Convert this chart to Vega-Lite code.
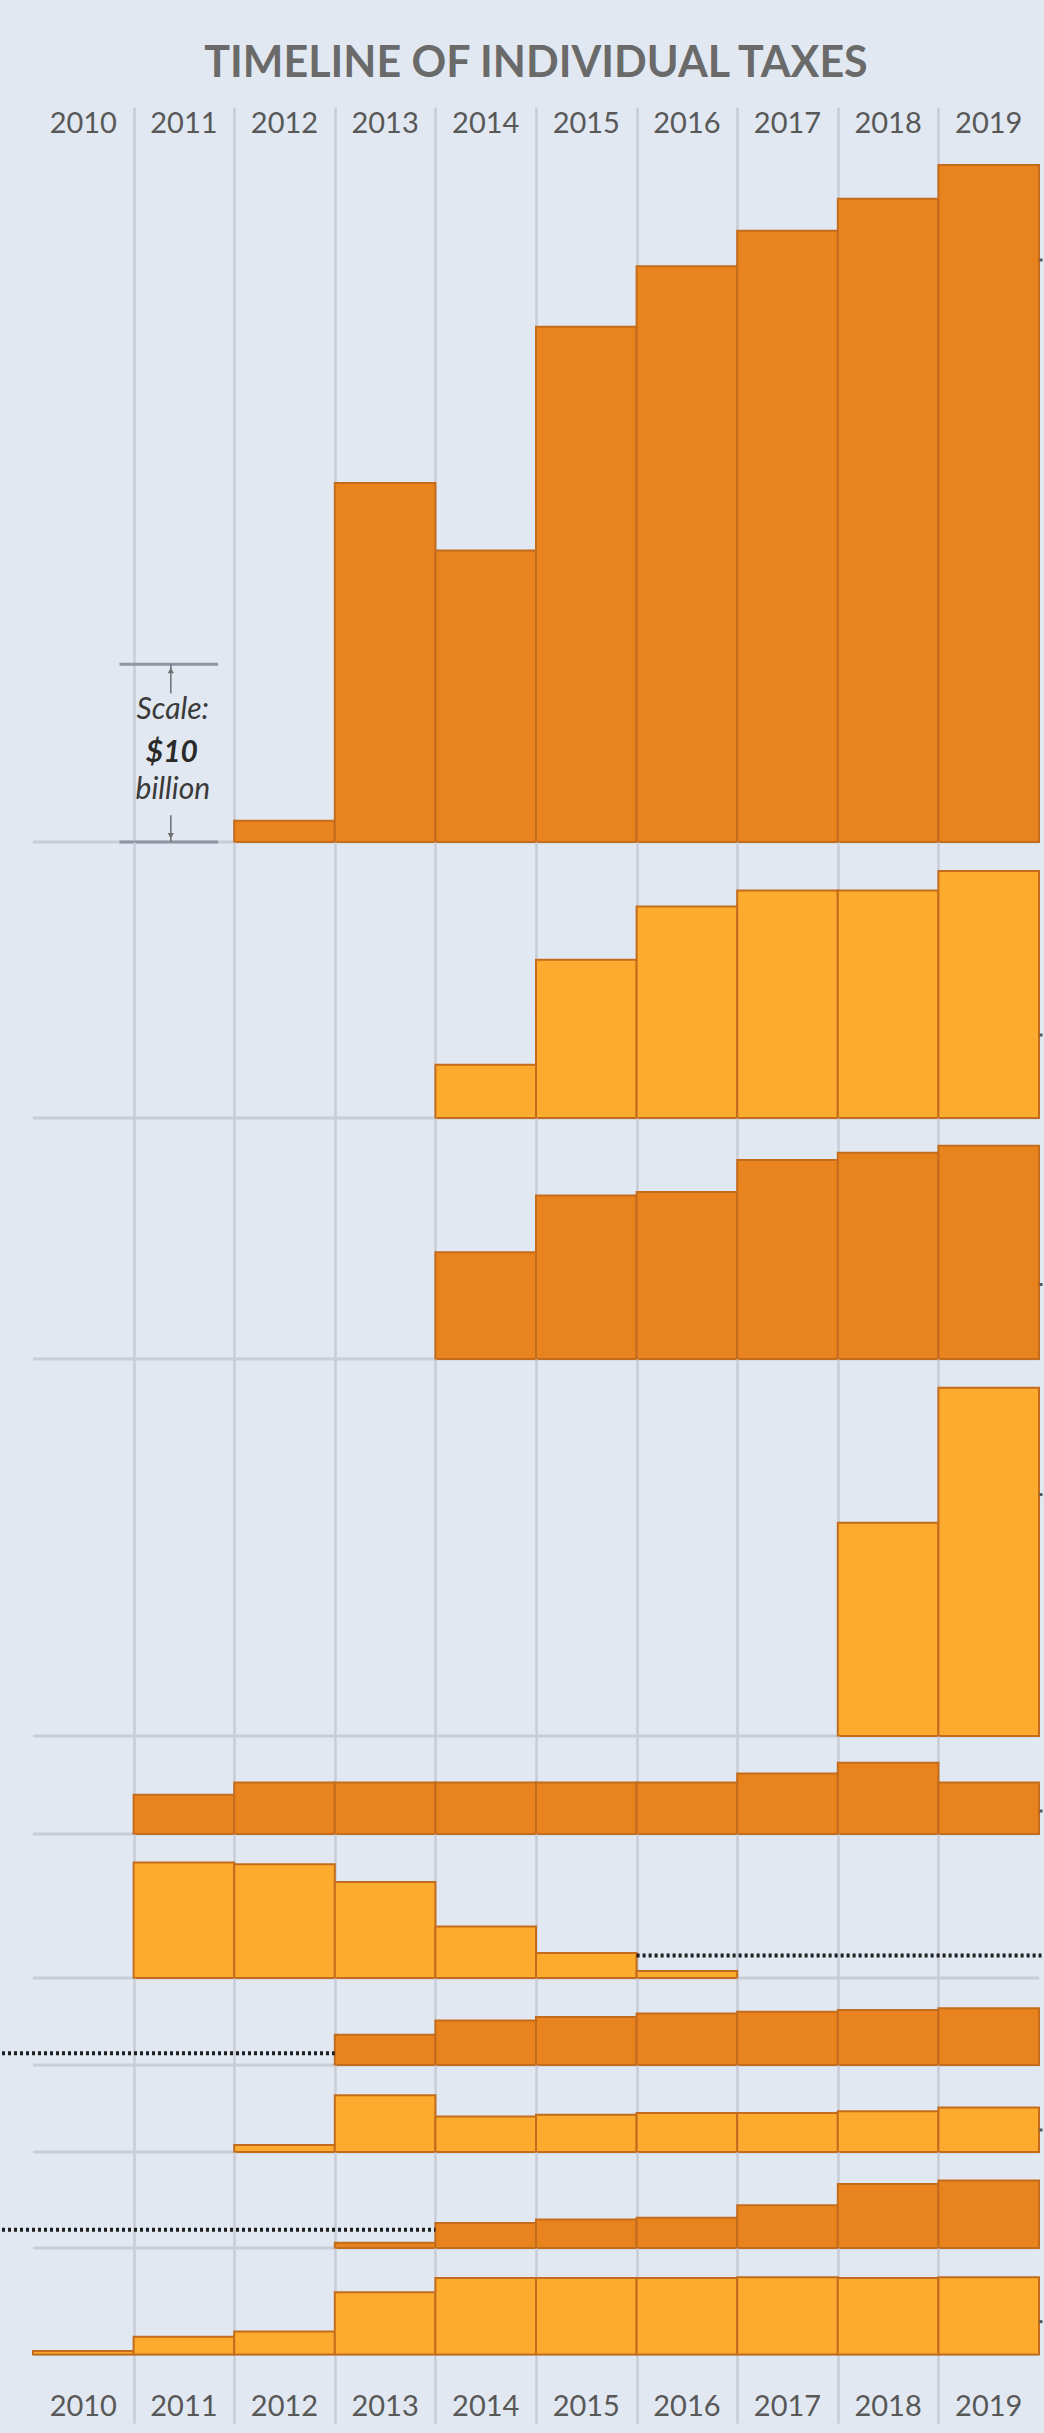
{
"$schema": "https://vega.github.io/schema/vega-lite/v6.json",
"background": "#e1e8f1",
"padding": {"left": 0, "top": 43, "right": 0, "bottom": 10},
"title": {"text": "TIMELINE OF INDIVIDUAL TAXES", "font": "Lato", "fontSize": 43, "fontWeight": "bold", "color": "#6a6a6a", "anchor": "middle", "frame": "group", "offset": 21},
"config": {"view": {"stroke": null}, "font": "Lato"},
"spacing": 0,
"bounds": "flush",
"datasets": {
"p1": [{"year":2012,"value":1.2},{"year":2013,"value":20.2},{"year":2014,"value":16.4},{"year":2015,"value":29.0},{"year":2016,"value":32.4},{"year":2017,"value":34.4},{"year":2018,"value":36.2},{"year":2019,"value":38.1}],
"p2": [{"year":2014,"value":3.0},{"year":2015,"value":8.9},{"year":2016,"value":11.9},{"year":2017,"value":12.8},{"year":2018,"value":12.8},{"year":2019,"value":13.9}],
"p3": [{"year":2014,"value":6.0},{"year":2015,"value":9.2},{"year":2016,"value":9.4},{"year":2017,"value":11.2},{"year":2018,"value":11.6},{"year":2019,"value":12.0}],
"p4": [{"year":2018,"value":12.0},{"year":2019,"value":19.6}],
"p5": [{"year":2011,"value":2.2},{"year":2012,"value":2.9},{"year":2013,"value":2.9},{"year":2014,"value":2.9},{"year":2015,"value":2.9},{"year":2016,"value":2.9},{"year":2017,"value":3.4},{"year":2018,"value":4.0},{"year":2019,"value":2.9}],
"p6": [{"year":2011,"value":6.5},{"year":2012,"value":6.4},{"year":2013,"value":5.4},{"year":2014,"value":2.9},{"year":2015,"value":1.4},{"year":2016,"value":0.4}],
"p7": [{"year":2013,"value":1.7},{"year":2014,"value":2.5},{"year":2015,"value":2.7},{"year":2016,"value":2.9},{"year":2017,"value":3.0},{"year":2018,"value":3.1},{"year":2019,"value":3.2}],
"p8": [{"year":2012,"value":0.4},{"year":2013,"value":3.2},{"year":2014,"value":2.0},{"year":2015,"value":2.1},{"year":2016,"value":2.2},{"year":2017,"value":2.2},{"year":2018,"value":2.3},{"year":2019,"value":2.5}],
"p9": [{"year":2013,"value":0.3},{"year":2014,"value":1.4},{"year":2015,"value":1.6},{"year":2016,"value":1.7},{"year":2017,"value":2.4},{"year":2018,"value":3.6},{"year":2019,"value":3.8}],
"p10": [{"year":2010,"value":0.2},{"year":2011,"value":1.0},{"year":2012,"value":1.3},{"year":2013,"value":3.5},{"year":2014,"value":4.3},{"year":2015,"value":4.3},{"year":2016,"value":4.3},{"year":2017,"value":4.35},{"year":2018,"value":4.3},{"year":2019,"value":4.35}],
"scaleText": [{"label":"Scale:","level":7.43},{"label":"billion","level":2.95}],
"scaleValue": [{"label":"$10","level":5.0}]
},
"vconcat": [
{
"width": 1006, "height": 735,
"resolve": {"scale": {"x": "independent"}},
"layer": [
{"data": {"values": [{}]}, "mark": {"type": "rule", "color": "#c8ced8", "strokeWidth": 3},
 "encoding": {"x": {"datum": 2010, "type": "quantitative", "scale": {"domain": [2010, 2020], "nice": false, "zero": false}, "axis": {"values": [2011,2012,2013,2014,2015,2016,2017,2018,2019], "grid": true, "gridColor": "#c7cdd7", "gridWidth": 2.5, "labels": false, "ticks": false, "domain": false, "title": null}}, "x2": {"datum": 2020}, "y": {"datum": 0, "type": "quantitative", "scale": {"domain": [0, 41.36], "nice": false, "zero": false}, "axis": null}}},
{"data": {"name": "p1"}, "mark": {"type": "bar", "fill": "#e8831e", "stroke": "#c46c1d", "strokeWidth": 2},
 "encoding": {"x": {"field": "year", "type": "ordinal", "scale": {"domain": [2010,2011,2012,2013,2014,2015,2016,2017,2018,2019], "paddingInner": 0, "paddingOuter": 0}, "axis": {"orient": "top", "labelFont": "Lato", "labelFontSize": 29, "labelColor": "#585858", "labelBaseline": "middle", "labelPadding": 0, "tickSize": 0, "offset": -16, "labelAngle": 0, "grid": false, "ticks": false, "domain": false, "title": null}},
  "y": {"field": "value", "type": "quantitative", "scale": {"domain": [0, 41.36], "nice": false, "zero": false}, "axis": null}, "y2": {"datum": 0}}},
{"data": {"values": [{}]}, "mark": {"type": "rule", "color": "#8d96a2", "strokeWidth": 3},
 "encoding": {"x": {"datum": 2010.86, "type": "quantitative", "scale": {"domain": [2010, 2020], "nice": false, "zero": false}, "axis": null}, "x2": {"datum": 2011.84}, "y": {"datum": 10, "type": "quantitative", "axis": null}}},
{"data": {"values": [{}]}, "mark": {"type": "rule", "color": "#8d96a2", "strokeWidth": 3},
 "encoding": {"x": {"datum": 2010.86, "type": "quantitative", "scale": {"domain": [2010, 2020], "nice": false, "zero": false}, "axis": null}, "x2": {"datum": 2011.84}, "y": {"datum": 0, "type": "quantitative", "axis": null}}},
{"data": {"values": [{}]}, "mark": {"type": "rule", "color": "#6f6f6f", "strokeWidth": 1.5},
 "encoding": {"x": {"datum": 2011.37, "type": "quantitative", "scale": {"domain": [2010, 2020], "nice": false, "zero": false}, "axis": null}, "y": {"datum": 10, "type": "quantitative", "axis": null}, "y2": {"datum": 8.35}}},
{"data": {"values": [{}]}, "mark": {"type": "rule", "color": "#6f6f6f", "strokeWidth": 1.5},
 "encoding": {"x": {"datum": 2011.37, "type": "quantitative", "scale": {"domain": [2010, 2020], "nice": false, "zero": false}, "axis": null}, "y": {"datum": 1.5, "type": "quantitative", "axis": null}, "y2": {"datum": 0}}},
{"data": {"values": [{}]}, "mark": {"type": "point", "shape": "triangle-up", "filled": true, "color": "#6f6f6f", "size": 40, "opacity": 1},
 "encoding": {"x": {"datum": 2011.37, "type": "quantitative", "scale": {"domain": [2010, 2020], "nice": false, "zero": false}, "axis": null}, "y": {"datum": 9.65, "type": "quantitative", "axis": null}}},
{"data": {"values": [{}]}, "mark": {"type": "point", "shape": "triangle-down", "filled": true, "color": "#6f6f6f", "size": 40, "opacity": 1},
 "encoding": {"x": {"datum": 2011.37, "type": "quantitative", "scale": {"domain": [2010, 2020], "nice": false, "zero": false}, "axis": null}, "y": {"datum": 0.35, "type": "quantitative", "axis": null}}},
{"data": {"name": "scaleText"}, "mark": {"type": "text", "font": "Lato", "fontStyle": "italic", "fontSize": 30, "color": "#3a3a3a", "align": "center", "baseline": "middle"},
 "encoding": {"x": {"datum": 2011.39, "type": "quantitative", "scale": {"domain": [2010, 2020], "nice": false, "zero": false}, "axis": null}, "y": {"field": "level", "type": "quantitative", "axis": null}, "text": {"field": "label"}}},
{"data": {"name": "scaleValue"}, "mark": {"type": "text", "font": "Lato", "fontStyle": "italic", "fontWeight": "bold", "fontSize": 30, "color": "#2a2a2a", "align": "center", "baseline": "middle"},
 "encoding": {"x": {"datum": 2011.38, "type": "quantitative", "scale": {"domain": [2010, 2020], "nice": false, "zero": false}, "axis": null}, "y": {"field": "level", "type": "quantitative", "axis": null}, "text": {"field": "label"}}},
{"data": {"values": [{}]}, "mark": {"type": "rule", "color": "#555555", "strokeWidth": 3},
 "encoding": {"x": {"datum": 2020.005, "type": "quantitative", "scale": {"domain": [2010, 2020], "nice": false, "zero": false}, "axis": null}, "x2": {"datum": 2020.035}, "y": {"datum": 32.75, "type": "quantitative", "axis": null}}}
]
},
{
"width": 1006, "height": 276,
"resolve": {"scale": {"x": "independent"}},
"layer": [
{"data": {"values": [{}]}, "mark": {"type": "rule", "color": "#c8ced8", "strokeWidth": 3},
 "encoding": {"x": {"datum": 2010, "type": "quantitative", "scale": {"domain": [2010, 2020], "nice": false, "zero": false}, "axis": {"values": [2011,2012,2013,2014,2015,2016,2017,2018,2019], "grid": true, "gridColor": "#c7cdd7", "gridWidth": 2.5, "labels": false, "ticks": false, "domain": false, "title": null}}, "x2": {"datum": 2020}, "y": {"datum": 0, "type": "quantitative", "scale": {"domain": [0, 15.53], "nice": false, "zero": false}, "axis": null}}},
{"data": {"name": "p2"}, "mark": {"type": "bar", "fill": "#fbab2d", "stroke": "#c46c1d", "strokeWidth": 2},
 "encoding": {"x": {"field": "year", "type": "ordinal", "scale": {"domain": [2010,2011,2012,2013,2014,2015,2016,2017,2018,2019], "paddingInner": 0, "paddingOuter": 0}, "axis": null},
  "y": {"field": "value", "type": "quantitative", "scale": {"domain": [0, 15.53], "nice": false, "zero": false}, "axis": null}, "y2": {"datum": 0}}},
{"data": {"values": [{}]}, "mark": {"type": "rule", "color": "#555555", "strokeWidth": 3},
 "encoding": {"x": {"datum": 2020.005, "type": "quantitative", "scale": {"domain": [2010, 2020], "nice": false, "zero": false}, "axis": null}, "x2": {"datum": 2020.035}, "y": {"datum": 4.67, "type": "quantitative", "axis": null}}}
]
},
{
"width": 1006, "height": 241,
"resolve": {"scale": {"x": "independent"}},
"layer": [
{"data": {"values": [{}]}, "mark": {"type": "rule", "color": "#c8ced8", "strokeWidth": 3},
 "encoding": {"x": {"datum": 2010, "type": "quantitative", "scale": {"domain": [2010, 2020], "nice": false, "zero": false}, "axis": {"values": [2011,2012,2013,2014,2015,2016,2017,2018,2019], "grid": true, "gridColor": "#c7cdd7", "gridWidth": 2.5, "labels": false, "ticks": false, "domain": false, "title": null}}, "x2": {"datum": 2020}, "y": {"datum": 0, "type": "quantitative", "scale": {"domain": [0, 13.56], "nice": false, "zero": false}, "axis": null}}},
{"data": {"name": "p3"}, "mark": {"type": "bar", "fill": "#e8831e", "stroke": "#c46c1d", "strokeWidth": 2},
 "encoding": {"x": {"field": "year", "type": "ordinal", "scale": {"domain": [2010,2011,2012,2013,2014,2015,2016,2017,2018,2019], "paddingInner": 0, "paddingOuter": 0}, "axis": null},
  "y": {"field": "value", "type": "quantitative", "scale": {"domain": [0, 13.56], "nice": false, "zero": false}, "axis": null}, "y2": {"datum": 0}}},
{"data": {"values": [{}]}, "mark": {"type": "rule", "color": "#555555", "strokeWidth": 3},
 "encoding": {"x": {"datum": 2020.005, "type": "quantitative", "scale": {"domain": [2010, 2020], "nice": false, "zero": false}, "axis": null}, "x2": {"datum": 2020.035}, "y": {"datum": 4.19, "type": "quantitative", "axis": null}}}
]
},
{
"width": 1006, "height": 377,
"resolve": {"scale": {"x": "independent"}},
"layer": [
{"data": {"values": [{}]}, "mark": {"type": "rule", "color": "#c8ced8", "strokeWidth": 3},
 "encoding": {"x": {"datum": 2010, "type": "quantitative", "scale": {"domain": [2010, 2020], "nice": false, "zero": false}, "axis": {"values": [2011,2012,2013,2014,2015,2016,2017,2018,2019], "grid": true, "gridColor": "#c7cdd7", "gridWidth": 2.5, "labels": false, "ticks": false, "domain": false, "title": null}}, "x2": {"datum": 2020}, "y": {"datum": 0, "type": "quantitative", "scale": {"domain": [0, 21.22], "nice": false, "zero": false}, "axis": null}}},
{"data": {"name": "p4"}, "mark": {"type": "bar", "fill": "#fbab2d", "stroke": "#c46c1d", "strokeWidth": 2},
 "encoding": {"x": {"field": "year", "type": "ordinal", "scale": {"domain": [2010,2011,2012,2013,2014,2015,2016,2017,2018,2019], "paddingInner": 0, "paddingOuter": 0}, "axis": null},
  "y": {"field": "value", "type": "quantitative", "scale": {"domain": [0, 21.22], "nice": false, "zero": false}, "axis": null}, "y2": {"datum": 0}}},
{"data": {"values": [{}]}, "mark": {"type": "rule", "color": "#555555", "strokeWidth": 3},
 "encoding": {"x": {"datum": 2020.005, "type": "quantitative", "scale": {"domain": [2010, 2020], "nice": false, "zero": false}, "axis": null}, "x2": {"datum": 2020.035}, "y": {"datum": 13.59, "type": "quantitative", "axis": null}}}
]
},
{
"width": 1006, "height": 98,
"resolve": {"scale": {"x": "independent"}},
"layer": [
{"data": {"values": [{}]}, "mark": {"type": "rule", "color": "#c8ced8", "strokeWidth": 3},
 "encoding": {"x": {"datum": 2010, "type": "quantitative", "scale": {"domain": [2010, 2020], "nice": false, "zero": false}, "axis": {"values": [2011,2012,2013,2014,2015,2016,2017,2018,2019], "grid": true, "gridColor": "#c7cdd7", "gridWidth": 2.5, "labels": false, "ticks": false, "domain": false, "title": null}}, "x2": {"datum": 2020}, "y": {"datum": 0, "type": "quantitative", "scale": {"domain": [0, 5.51], "nice": false, "zero": false}, "axis": null}}},
{"data": {"name": "p5"}, "mark": {"type": "bar", "fill": "#e8831e", "stroke": "#c46c1d", "strokeWidth": 2},
 "encoding": {"x": {"field": "year", "type": "ordinal", "scale": {"domain": [2010,2011,2012,2013,2014,2015,2016,2017,2018,2019], "paddingInner": 0, "paddingOuter": 0}, "axis": null},
  "y": {"field": "value", "type": "quantitative", "scale": {"domain": [0, 5.51], "nice": false, "zero": false}, "axis": null}, "y2": {"datum": 0}}},
{"data": {"values": [{}]}, "mark": {"type": "rule", "color": "#555555", "strokeWidth": 3},
 "encoding": {"x": {"datum": 2020.005, "type": "quantitative", "scale": {"domain": [2010, 2020], "nice": false, "zero": false}, "axis": null}, "x2": {"datum": 2020.035}, "y": {"datum": 1.29, "type": "quantitative", "axis": null}}}
]
},
{
"width": 1006, "height": 144,
"resolve": {"scale": {"x": "independent"}},
"layer": [
{"data": {"values": [{}]}, "mark": {"type": "rule", "color": "#c8ced8", "strokeWidth": 3},
 "encoding": {"x": {"datum": 2010, "type": "quantitative", "scale": {"domain": [2010, 2020], "nice": false, "zero": false}, "axis": {"values": [2011,2012,2013,2014,2015,2016,2017,2018,2019], "grid": true, "gridColor": "#c7cdd7", "gridWidth": 2.5, "labels": false, "ticks": false, "domain": false, "title": null}}, "x2": {"datum": 2020}, "y": {"datum": 0, "type": "quantitative", "scale": {"domain": [0, 8.10], "nice": false, "zero": false}, "axis": null}}},
{"data": {"name": "p6"}, "mark": {"type": "bar", "fill": "#fbab2d", "stroke": "#c46c1d", "strokeWidth": 2},
 "encoding": {"x": {"field": "year", "type": "ordinal", "scale": {"domain": [2010,2011,2012,2013,2014,2015,2016,2017,2018,2019], "paddingInner": 0, "paddingOuter": 0}, "axis": null},
  "y": {"field": "value", "type": "quantitative", "scale": {"domain": [0, 8.10], "nice": false, "zero": false}, "axis": null}, "y2": {"datum": 0}}},
{"data": {"values": [{}]}, "mark": {"type": "rule", "color": "#1e1e1e", "strokeWidth": 4, "strokeDash": [3, 3]},
 "encoding": {"x": {"datum": 2016, "type": "quantitative", "scale": {"domain": [2010, 2020], "nice": false, "zero": false}, "axis": null}, "x2": {"datum": 2020.025}, "y": {"datum": 1.27, "type": "quantitative", "axis": null}}}
]
},
{
"width": 1006, "height": 87,
"resolve": {"scale": {"x": "independent"}},
"layer": [
{"data": {"values": [{}]}, "mark": {"type": "rule", "color": "#c8ced8", "strokeWidth": 3},
 "encoding": {"x": {"datum": 2010, "type": "quantitative", "scale": {"domain": [2010, 2020], "nice": false, "zero": false}, "axis": {"values": [2011,2012,2013,2014,2015,2016,2017,2018,2019], "grid": true, "gridColor": "#c7cdd7", "gridWidth": 2.5, "labels": false, "ticks": false, "domain": false, "title": null}}, "x2": {"datum": 2020}, "y": {"datum": 0, "type": "quantitative", "scale": {"domain": [0, 4.90], "nice": false, "zero": false}, "axis": null}}},
{"data": {"name": "p7"}, "mark": {"type": "bar", "fill": "#e8831e", "stroke": "#c46c1d", "strokeWidth": 2},
 "encoding": {"x": {"field": "year", "type": "ordinal", "scale": {"domain": [2010,2011,2012,2013,2014,2015,2016,2017,2018,2019], "paddingInner": 0, "paddingOuter": 0}, "axis": null},
  "y": {"field": "value", "type": "quantitative", "scale": {"domain": [0, 4.90], "nice": false, "zero": false}, "axis": null}, "y2": {"datum": 0}}},
{"data": {"values": [{}]}, "mark": {"type": "rule", "color": "#1e1e1e", "strokeWidth": 4, "strokeDash": [3, 3]},
 "encoding": {"x": {"datum": 2009.692, "type": "quantitative", "scale": {"domain": [2010, 2020], "nice": false, "zero": false}, "axis": null}, "x2": {"datum": 2013}, "y": {"datum": 0.66, "type": "quantitative", "axis": null}}}
]
},
{
"width": 1006, "height": 87,
"resolve": {"scale": {"x": "independent"}},
"layer": [
{"data": {"values": [{}]}, "mark": {"type": "rule", "color": "#c8ced8", "strokeWidth": 3},
 "encoding": {"x": {"datum": 2010, "type": "quantitative", "scale": {"domain": [2010, 2020], "nice": false, "zero": false}, "axis": {"values": [2011,2012,2013,2014,2015,2016,2017,2018,2019], "grid": true, "gridColor": "#c7cdd7", "gridWidth": 2.5, "labels": false, "ticks": false, "domain": false, "title": null}}, "x2": {"datum": 2020}, "y": {"datum": 0, "type": "quantitative", "scale": {"domain": [0, 4.90], "nice": false, "zero": false}, "axis": null}}},
{"data": {"name": "p8"}, "mark": {"type": "bar", "fill": "#fbab2d", "stroke": "#c46c1d", "strokeWidth": 2},
 "encoding": {"x": {"field": "year", "type": "ordinal", "scale": {"domain": [2010,2011,2012,2013,2014,2015,2016,2017,2018,2019], "paddingInner": 0, "paddingOuter": 0}, "axis": null},
  "y": {"field": "value", "type": "quantitative", "scale": {"domain": [0, 4.90], "nice": false, "zero": false}, "axis": null}, "y2": {"datum": 0}}},
{"data": {"values": [{}]}, "mark": {"type": "rule", "color": "#555555", "strokeWidth": 3},
 "encoding": {"x": {"datum": 2020.005, "type": "quantitative", "scale": {"domain": [2010, 2020], "nice": false, "zero": false}, "axis": null}, "x2": {"datum": 2020.035}, "y": {"datum": 1.24, "type": "quantitative", "axis": null}}}
]
},
{
"width": 1006, "height": 96,
"resolve": {"scale": {"x": "independent"}},
"layer": [
{"data": {"values": [{}]}, "mark": {"type": "rule", "color": "#c8ced8", "strokeWidth": 3},
 "encoding": {"x": {"datum": 2010, "type": "quantitative", "scale": {"domain": [2010, 2020], "nice": false, "zero": false}, "axis": {"values": [2011,2012,2013,2014,2015,2016,2017,2018,2019], "grid": true, "gridColor": "#c7cdd7", "gridWidth": 2.5, "labels": false, "ticks": false, "domain": false, "title": null}}, "x2": {"datum": 2020}, "y": {"datum": 0, "type": "quantitative", "scale": {"domain": [0, 5.40], "nice": false, "zero": false}, "axis": null}}},
{"data": {"name": "p9"}, "mark": {"type": "bar", "fill": "#e8831e", "stroke": "#c46c1d", "strokeWidth": 2},
 "encoding": {"x": {"field": "year", "type": "ordinal", "scale": {"domain": [2010,2011,2012,2013,2014,2015,2016,2017,2018,2019], "paddingInner": 0, "paddingOuter": 0}, "axis": null},
  "y": {"field": "value", "type": "quantitative", "scale": {"domain": [0, 5.40], "nice": false, "zero": false}, "axis": null}, "y2": {"datum": 0}}},
{"data": {"values": [{}]}, "mark": {"type": "rule", "color": "#1e1e1e", "strokeWidth": 4, "strokeDash": [3, 3]},
 "encoding": {"x": {"datum": 2009.692, "type": "quantitative", "scale": {"domain": [2010, 2020], "nice": false, "zero": false}, "axis": null}, "x2": {"datum": 2014}, "y": {"datum": 1.03, "type": "quantitative", "axis": null}}}
]
},
{
"width": 1006, "height": 175,
"resolve": {"scale": {"x": "independent"}},
"layer": [
{"data": {"values": [{}]}, "mark": {"type": "rule", "color": "#c8ced8", "strokeWidth": 3},
 "encoding": {"x": {"datum": 2010, "type": "quantitative", "scale": {"domain": [2010, 2020], "nice": false, "zero": false}, "axis": {"values": [2011,2012,2013,2014,2015,2016,2017,2018,2019], "grid": true, "gridColor": "#c7cdd7", "gridWidth": 2.5, "labels": false, "ticks": false, "domain": false, "title": null}}, "x2": {"datum": 2020}, "y": {"datum": 0, "type": "quantitative", "scale": {"domain": [-3.855, 5.993], "nice": false, "zero": false}, "axis": null}}},
{"data": {"name": "p10"}, "mark": {"type": "bar", "fill": "#fbab2d", "stroke": "#c46c1d", "strokeWidth": 2},
 "encoding": {"x": {"field": "year", "type": "ordinal", "scale": {"domain": [2010,2011,2012,2013,2014,2015,2016,2017,2018,2019], "paddingInner": 0, "paddingOuter": 0}, "axis": {"orient": "bottom", "labelFont": "Lato", "labelFontSize": 29, "labelColor": "#585858", "labelBaseline": "middle", "labelPadding": 0, "tickSize": 0, "offset": -17, "labelAngle": 0, "grid": false, "ticks": false, "domain": false, "title": null}},
  "y": {"field": "value", "type": "quantitative", "scale": {"domain": [-3.855, 5.993], "nice": false, "zero": false}, "axis": null}, "y2": {"datum": 0}}},
{"data": {"values": [{}]}, "mark": {"type": "rule", "color": "#555555", "strokeWidth": 3},
 "encoding": {"x": {"datum": 2020.005, "type": "quantitative", "scale": {"domain": [2010, 2020], "nice": false, "zero": false}, "axis": null}, "x2": {"datum": 2020.035}, "y": {"datum": 1.85, "type": "quantitative", "axis": null}}}
]
}
]
}
